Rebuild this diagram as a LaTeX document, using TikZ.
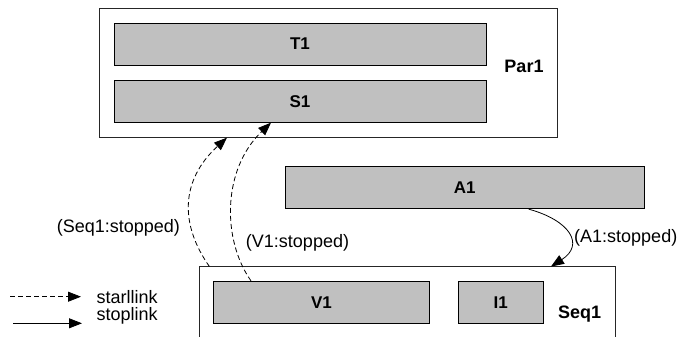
\documentclass[tikz,border=0pt]{standalone}
\usepackage{fontspec}
\setmainfont{Liberation Sans}
\usetikzlibrary{arrows.meta,calc}
\definecolor{boxgray}{HTML}{C0C0C0}

\tikzset{
  frame/.style={draw=black!85, line width=0.9pt},
  task/.style={draw=black, fill=boxgray, line width=0.9pt, minimum height=42pt, inner sep=0pt,
    font=\fontsize{17}{20}\selectfont\bfseries},
  tag/.style={inner sep=0pt, font=\fontsize{18}{21}\selectfont\bfseries},
  cond/.style={inner sep=0pt, font=\fontsize{18}{21}\selectfont},
  startlink/.style={dash pattern=on 5pt off 3pt, line width=0.8pt, -{Triangle[length=13pt,width=10pt]}},
  stoplink/.style={line width=0.8pt, -{Triangle[length=13pt,width=10pt]}},
}

\begin{document}
\begin{tikzpicture}[x=1pt, y=-1pt]
    \useasboundingbox (0,0) rectangle (681,337);

    % Par1
    \node[frame, minimum width=458pt, minimum height=129pt] (par) at (328.7,72.7) {};
    \node[task, minimum width=372pt] (t1) at (300,44) {T1};
    \node[task, minimum width=372pt] (s1) at (300,101.2) {S1};
    \node[tag] (parlbl) at (524,66.7) {Par1};

    % A1
    \node[task, minimum width=359pt] (a1) at (464.8,187.7) {A1};

    % Seq1 (open at the bottom)
    \node[minimum width=415pt, minimum height=70.3pt, inner sep=0pt] (seq) at (407.4,301.85) {};
    \draw[frame] (seq.south west) |- (seq.north east) -- (seq.south east);
    \node[task, minimum width=215.5pt] (v1) at (321.5,302.3) {V1};
    \node[task, minimum width=85.5pt] (i1) at (500.7,302.3) {I1};
    \node[tag, anchor=base west] (seqlbl) at (558,318.3) {Seq1};

    % links
    \draw[startlink] ([xshift=-198pt]seq.north) .. controls +(-29.4,-41.7) and +(-47,43) .. ([xshift=-101.7pt]par.south);
    \draw[startlink] ([xshift=-70.5pt]v1.north) .. controls +(-29,-41) and +(-49,47) .. ([xshift=-29pt]s1.south);
    \draw[stoplink] ([xshift=63.9pt]a1.south) .. controls +(41.3,11.3) and +(34,-21.7) .. ([xshift=143.6pt]seq.north);

    \node[cond] (seqstop) at (118.4,228.3) {(Seq1:stopped)};
    \node[cond] (v1stop) at (297.5,242.5) {(V1:stopped)};
    \node[cond, anchor=west] (a1stop) at (574,238.3) {(A1:stopped)};

    % legend
    \coordinate (dashs) at (10,296.7);
    \coordinate (dashe) at (81,296.7);
    \draw[startlink] (dashs) -- (dashe);
    \node[cond, anchor=base west] (startlbl) at (96.5,303.3) {starllink};
    \coordinate (lines) at (13,323.3);
    \coordinate (linee) at (82,323.3);
    \draw[stoplink] (lines) -- (linee);
    \node[cond, anchor=base west] (stoplbl) at (96.5,320) {stoplink};
\end{tikzpicture}
\end{document}
